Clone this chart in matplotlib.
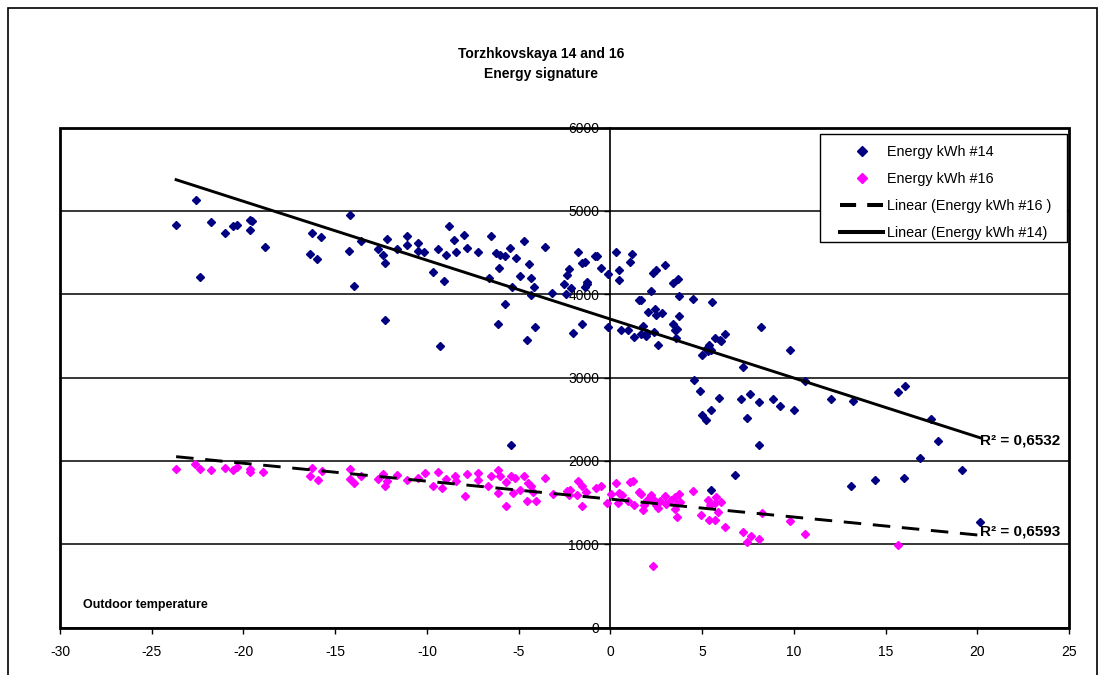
import numpy as np
import matplotlib
matplotlib.use("Agg")
import matplotlib.pyplot as plt
from matplotlib.patches import Rectangle
from matplotlib.lines import Line2D

plt.rcParams['font.family'] = ['Liberation Sans', 'DejaVu Sans']
plt.rcParams['axes.unicode_minus'] = False

# Energy kWh #14 (outdoor temperature, energy)
temp14 = [-22.6, -23.67, -21.75, -21.0, -20.55, -20.35, -19.65, -19.55, -19.65, -18.85, -16.27, -15.77, -16.37, -15.97, -22.35,
          -14.2, -14.24, -13.98, -13.58, -12.65, -12.38, -12.28, -12.18, -12.28, -11.65, -11.09, -11.09, -10.49, -10.49, -10.15,
          -9.66, -9.4, -9.26, -9.06, -8.97, -8.8, -8.5, -8.4, -7.96, -7.81, -7.21, -6.51, -6.61, -6.21, -6.01, -5.72, -6.07,
          -6.11, -5.72, -5.48, -5.37, -5.17, -4.92, -4.72, -4.52, -4.42, -4.32, -4.17, -4.32, -4.12, -3.58, -3.18, -2.53, -2.43,
          -2.39, -2.28, -2.03, -1.76, -1.52, -1.39, -1.37, -1.3, -1.53, -0.83, -0.73, -0.49, -0.14, -0.12, -2.13, -1.26,
          0.33, 0.46, 0.46, 1.06, 1.19, 0.57, 0.96, 1.27, 1.55, 1.69, 1.78, 1.69, 1.93, 2.0, 2.05, 2.42, 2.48, 2.82, 2.24,
          2.3, 2.51, 2.37, 2.62, 2.97, 3.42, 3.69, 3.73, 3.73, 3.39, 3.64, 3.51, 3.56, 4.51, 5.56, 4.54, 4.88, 4.99,
          5.24, 5.39, 5.34, 5.51, 5.73, 5.96, 6.05, 6.23, 4.99, 5.24, 5.5, 5.92, 7.13, 7.23, 7.6, 7.46, 8.12, 8.22, 8.12,
          8.87, 9.22, 9.78, 10.02, 10.59, 12.01, 13.2, 15.69, 16.04, 17.48, 17.88, 16.89, 13.1, 14.4, 15.99, 19.18, 20.14,
          6.78, 5.47, -5.39]
energy14 = [5136, 4832, 4868, 4732, 4816, 4828, 4896, 4880, 4776, 4568, 4732, 4684, 4484, 4428, 4204,
            4956, 4516, 4100, 4636, 4544, 4468, 4376, 4664, 3696, 4544, 4696, 4596, 4616, 4524, 4504,
            4264, 4544, 3376, 4160, 4468, 4816, 4648, 4504, 4716, 4552, 4504, 4704, 4196, 4496, 4476, 4464, 4312,
            3640, 3888, 4552, 4088, 4436, 4216, 4640, 3448, 4360, 4200, 4088, 3988, 3608, 4568, 4020, 4120, 4008,
            4232, 4304, 3536, 4504, 4376, 4384, 4088, 4128, 3648, 4464, 4456, 4320, 4248, 3604, 4076, 4144,
            4504, 4288, 4168, 4388, 4488, 3576, 3568, 3488, 3928, 3928, 3616, 3528, 3496, 3536, 3784, 3828, 3756, 3776, 4036,
            4256, 4296, 3544, 3396, 4356, 4136, 4184, 3976, 3744, 3648, 3584, 3576, 3476, 3948, 3908, 2968, 2844, 3276,
            3344, 3396, 3316, 3328, 3476, 3456, 3436, 3528, 2552, 2496, 2616, 2756, 2744, 3124, 2808, 2516, 2708, 3608, 2196,
            2748, 2656, 3336, 2616, 2956, 2744, 2716, 2824, 2896, 2504, 2236, 2040, 1696, 1776, 1796, 1896, 1268,
            1828, 1648, 2196]

# Energy kWh #16
temp16 = [-23.67, -22.65, -22.35, -21.75, -21.0, -20.55, -20.35, -19.65, -19.65, -18.92, -16.27, -16.37, -15.92, -15.74,
          -14.18, -14.18, -13.98, -13.58, -12.65, -12.38, -12.28, -12.18, -11.65, -11.09, -10.49, -10.1, -9.66, -9.4, -9.2,
          -8.94, -8.47, -8.4, -7.91, -7.81, -7.21, -7.21, -6.66, -6.48, -6.11, -6.01, -6.11, -5.67, -5.39, -5.22, -5.7, -5.32,
          -4.92, -4.72, -4.48, -4.3, -4.24, -4.57, -4.06, -3.58, -3.13, -2.39, -2.21, -2.23, -1.76, -1.57, -1.52, -1.83,
          -1.33, -0.79, -0.49, -0.21, 0.06, 0.33, 0.43, 0.48, 0.61, 0.96, 1.06, 1.25, 1.29, 1.56, 1.69, 1.78, 1.82, 2.0,
          2.24, 2.37, 2.48, 2.6, 2.7, 2.33, 2.97, 3.02, 3.32, 3.51, 3.74, 3.63, 3.82, 3.63, 3.51, 4.51, 4.96, 5.32,
          5.41, 5.68, 5.78, 5.86, 6.05, 5.37, 5.68, 6.23, 7.23, 7.46, 7.66, 8.1, 8.27, 9.78, 10.59, 15.69]
energy16 = [1908, 1968, 1908, 1888, 1916, 1896, 1928, 1908, 1868, 1868, 1916, 1816, 1776, 1884,
            1908, 1788, 1736, 1816, 1784, 1848, 1696, 1756, 1836, 1776, 1796, 1856, 1704, 1864, 1676,
            1784, 1824, 1756, 1584, 1848, 1856, 1776, 1696, 1824, 1888, 1816, 1616, 1744, 1824, 1796, 1464, 1616,
            1648, 1824, 1736, 1696, 1624, 1516, 1516, 1796, 1608, 1636, 1656, 1596, 1756, 1704, 1464, 1596,
            1624, 1676, 1696, 1496, 1608, 1736, 1496, 1616, 1596, 1516, 1744, 1756, 1476, 1624, 1608, 1416, 1476, 1528,
            1596, 1536, 1476, 1436, 1516, 744, 1576, 1488, 1536, 1568, 1608, 1488, 1504, 1328, 1424, 1636, 1356, 1528,
            1476, 1496, 1568, 1384, 1508, 1288, 1296, 1208, 1144, 1028, 1104, 1068, 1376, 1284, 1124, 996]

r2_14 = "0,6532"
r2_16 = "0,6593"

navy = "#000080"
pink = "#FF00FF"

W, H = 1105, 675
fig = plt.figure(figsize=(W / 100, H / 100), dpi=100)
# plot area in pixels: x 60..1069, y 127.5..627.5
ax = fig.add_axes([60 / W, 1 - 627.5 / H, (1069 - 60) / W, 500 / H])


def px(x, y):
    # pixel position -> axes fraction (for layout only)
    return ((x - 60) / 1009, (627.5 - y) / 500)


# outer chart border
fig.patches.append(Rectangle((8 / W, -0.02), (1097 - 8) / W, 1 - 8 / H + 0.02, transform=fig.transFigure,
                             fill=False, edgecolor='black', linewidth=1.2))

ax.plot(temp14, energy14, linestyle='none', marker='D', ms=4.5, color=navy, zorder=3)
ax.plot(temp16, energy16, linestyle='none', marker='D', ms=4.5, color=pink, zorder=3)

# linear trendlines over the temperature range
xr = np.array([min(temp14), max(temp14)])
k14 = np.polyfit(temp14, energy14, 1)
k16 = np.polyfit(temp16, energy16, 1)
ax.plot(xr, np.polyval(k14, xr), color='black', lw=2.1, zorder=4)
ax.plot(xr, np.polyval(k16, xr), color='black', lw=2.1, linestyle=(0, (6, 4)), zorder=4)

ax.set_xlim(-30, 25)
ax.set_ylim(0, 6000)
ax.set_xticks(range(-30, 26, 5))
ax.set_yticks(range(0, 6001, 1000))
ax.grid(axis='y', color='black', lw=1.1)
ax.set_axisbelow(True)

for s in ['top', 'right', 'bottom']:
    ax.spines[s].set_visible(False)
ax.spines['left'].set_position(('data', 0))
ax.spines['left'].set_linewidth(1.2)
ax.add_patch(Rectangle((0, 0), 1, 1, transform=ax.transAxes, fill=False, edgecolor='black',
                       linewidth=2, clip_on=False, zorder=5))
ax.tick_params(axis='x', direction='out', length=4.5, width=1, labelsize=10, pad=8)
ax.tick_params(axis='y', direction='out', length=4, width=1, labelsize=10, pad=4)

fig.text(541 / W, 1 - 54 / H, "Torzhkovskaya 14 and 16", ha='center', va='center',
         fontsize=10, fontweight='bold')
fig.text(541 / W, 1 - 74 / H, "Energy signature", ha='center', va='center',
         fontsize=10, fontweight='bold')
fig.text(83 / W, 1 - 605 / H, "Outdoor temperature", ha='left', va='center',
         fontsize=9, fontweight='bold')

ax.text(xr[1] + 0.03, np.polyval(k14, xr[1]) - 35, "R² = " + r2_14, ha='left', va='center',
        fontsize=11, fontweight='bold', zorder=6)
ax.text(xr[1] + 0.03, np.polyval(k16, xr[1]) + 40, "R² = " + r2_16, ha='left', va='center',
        fontsize=11, fontweight='bold', zorder=6)

handles = [
    Line2D([], [], linestyle='none', marker='D', ms=5, color=navy),
    Line2D([], [], linestyle='none', marker='D', ms=5, color=pink),
    Line2D([], [], color='black', lw=2.9, linestyle=(0, (4, 2.75))),
    Line2D([], [], color='black', lw=2.9),
]
labels = ["Energy kWh #14", "Energy kWh #16", "Linear (Energy kWh #16 )", "Linear (Energy kWh #14)"]
leg = ax.legend(handles, labels, loc='upper left', bbox_to_anchor=px(827, 132), fontsize=10.4,
                frameon=False, handlelength=3.0, borderpad=0.4, labelspacing=0.9,
                handletextpad=0.25, numpoints=1)
leg.set_zorder(7)
# legend box
x0, y1 = px(820, 134)
x1, y0 = px(1067, 242)
ax.add_patch(Rectangle((x0, y0), x1 - x0, y1 - y0, transform=ax.transAxes, facecolor='white',
                       edgecolor='black', linewidth=1, clip_on=False, zorder=6))

fig.savefig("out.png", dpi=100)
